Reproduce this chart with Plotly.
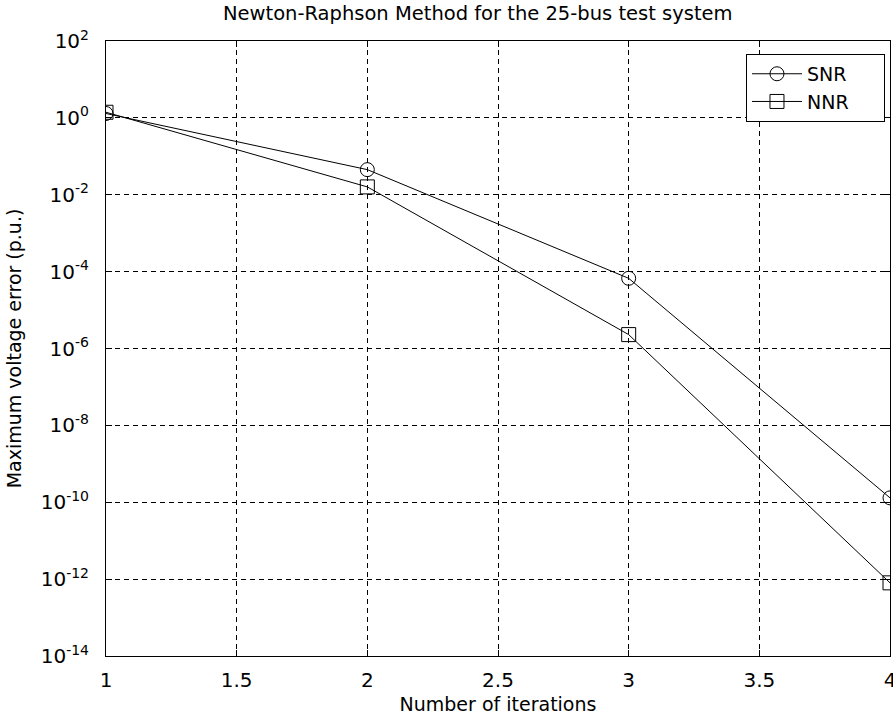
import plotly.graph_objects as go

iterations = [1, 2, 3, 4]
snr_error = [1.3, 0.045, 6.7e-5, 1.3e-10]
nnr_error = [1.4, 0.016, 2.3e-6, 8e-13]
series_names = ["SNR", "NNR"]
x_ticks = [1, 1.5, 2, 2.5, 3, 3.5, 4]
x_tick_labels = ["1", "1.5", "2", "2.5", "3", "3.5", "4"]
y_exponents = [2, 0, -2, -4, -6, -8, -10, -12, -14]

FONT = "DejaVu Sans, Liberation Sans, Arial, sans-serif"
PAD = "\u00a0" * 5  # right padding inside the legend box

fig = go.Figure()
fig.add_trace(go.Scatter(
    x=iterations, y=snr_error, name=series_names[0] + PAD, mode="lines+markers",
    line=dict(color="black", width=1),
    marker=dict(symbol="circle-open", size=14, color="black", line=dict(width=1)),
))
fig.add_trace(go.Scatter(
    x=iterations, y=nnr_error, name=series_names[1] + PAD, mode="lines+markers",
    line=dict(color="black", width=1),
    marker=dict(symbol="square-open", size=14, color="black", line=dict(width=1)),
))

yvals = [10.0 ** e for e in y_exponents]
ytext = ["10<sup>%d</sup>" % e for e in y_exponents]

fig.update_layout(
    width=893, height=718,
    paper_bgcolor="white", plot_bgcolor="white",
    margin=dict(l=106, r=3, t=41, b=62, autoexpand=False),
    font=dict(family=FONT, color="black", size=16),
    title=dict(text="Newton-Raphson Method for the 25-bus test system",
               x=0.535, xref="container", xanchor="center", y=0.981, yanchor="middle",
               font=dict(size=19.5, family=FONT)),
    showlegend=True,
    legend=dict(x=0.9936, xanchor="right", y=0.979, yanchor="top",
                bordercolor="black", borderwidth=1, bgcolor="white",
                font=dict(size=19, family=FONT), tracegroupgap=0,
                itemwidth=50),
    xaxis=dict(
        range=[1, 4], tickvals=x_ticks, ticktext=x_tick_labels,
        showgrid=True, gridcolor="black", gridwidth=1, griddash="5px,4px",
        showline=True, linecolor="black", linewidth=1, mirror="ticks",
        ticks="inside", ticklen=6, tickcolor="black", automargin=False,
        zeroline=False, ticklabeloverflow="allow", ticklabelstandoff=6,
        title=dict(text="Number of iterations", font=dict(size=19), standoff=6),
        tickfont=dict(size=20),
    ),
    yaxis=dict(
        type="log", range=[-14, 2], tickvals=yvals, ticktext=ytext,
        showgrid=True, gridcolor="black", gridwidth=1, griddash="5px,4px",
        showline=True, linecolor="black", linewidth=1, mirror="ticks",
        ticks="inside", ticklen=6, tickcolor="black", automargin=False,
        zeroline=False, ticklabelstandoff=12,
        title=dict(text="Maximum voltage error (p.u.)", font=dict(size=19), standoff=14),
        tickfont=dict(size=20),
    ),
)

fig.write_html("out.html")
